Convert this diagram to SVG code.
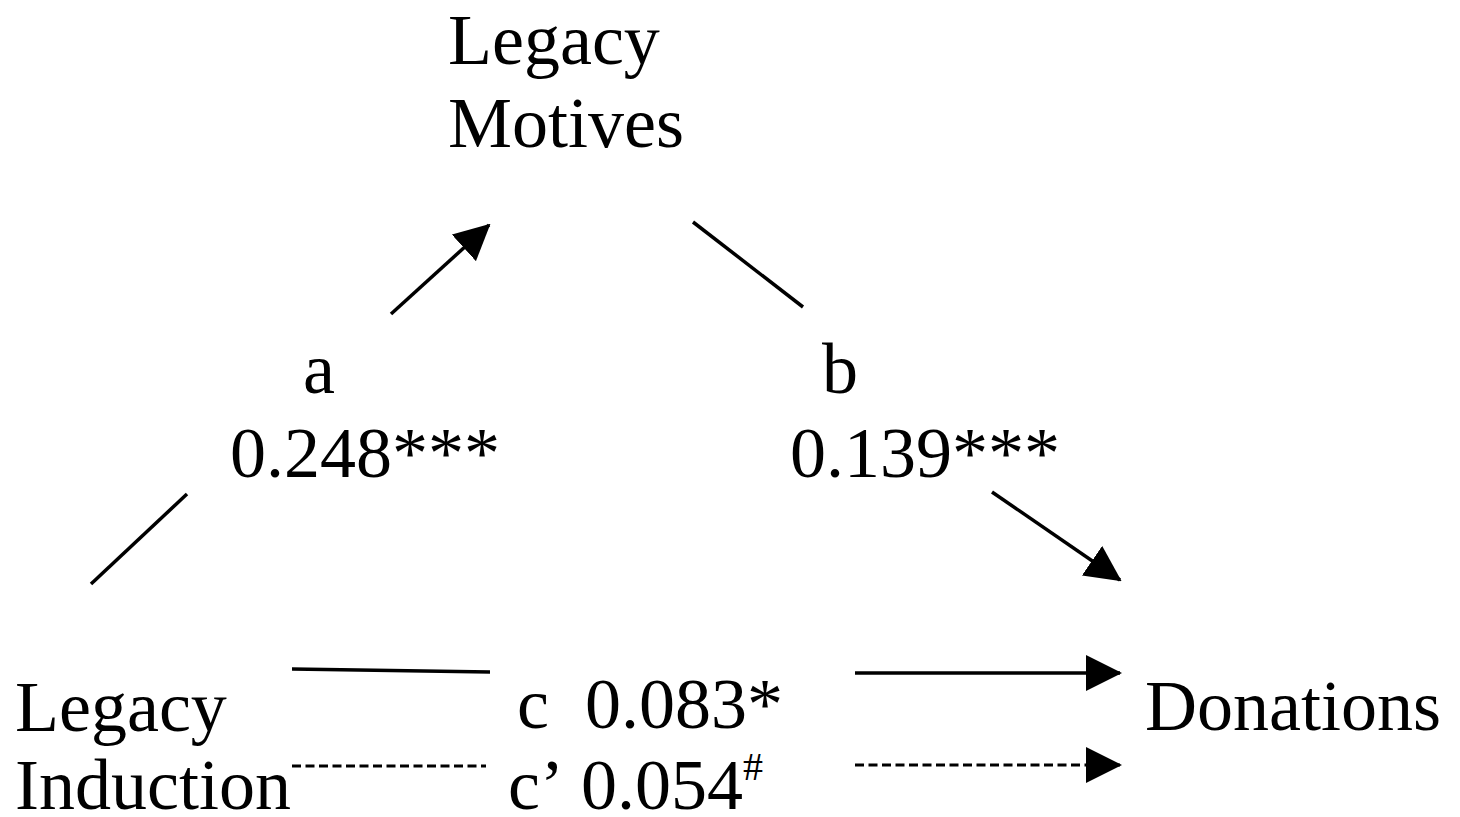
<svg xmlns="http://www.w3.org/2000/svg" width="1460" height="817" viewBox="0 0 1460 817">
  <style>
    text { font-family: "Liberation Serif", "Times New Roman", serif; font-size: 72px; fill: #000; }
    .sup { font-size: 40px; }
    .edge { stroke: #000; stroke-width: 3.5; fill: none; stroke-linecap: butt; }
    .dash { stroke-dasharray: 9 4.5; stroke-width: 3; }
  </style>
  <defs>
    <marker id="head" markerUnits="userSpaceOnUse" markerWidth="36" markerHeight="36" viewBox="0 0 36 36" refX="34" refY="18" orient="auto">
      <path d="M0,0 L36,18 L0,36 Z" fill="#000"/>
    </marker>
  </defs>
  <rect width="1460" height="817" fill="#fff"/>

  <!-- nodes -->
  <g id="legacy-motives">
    <text x="448" y="64">Legacy</text>
    <text x="448" y="147">Motives</text>
  </g>
  <g id="legacy-induction">
    <text x="15" y="731">Legacy</text>
    <text x="15" y="809">Induction</text>
  </g>
  <g id="donations">
    <text x="1145" y="730">Donations</text>
  </g>

  <!-- path coefficients -->
  <g id="labels">
    <text x="303" y="393">a</text>
    <text x="230" y="477">0.248***</text>
    <text x="822" y="393">b</text>
    <text x="790" y="477">0.139***</text>
    <text x="517" y="728">c</text>
    <text x="585" y="728">0.083*</text>
    <text x="508" y="809">c’</text>
    <text x="581" y="809">0.054<tspan class="sup" dy="-29">#</tspan></text>
  </g>

  <!-- connectors -->
  <g id="connectors">
    <line class="edge" x1="91" y1="584" x2="187" y2="494"/>
    <line class="edge" x1="391" y1="314" x2="489" y2="225" marker-end="url(#head)"/>
    <line class="edge" x1="693" y1="222" x2="803" y2="307"/>
    <line class="edge" x1="992" y1="492" x2="1120" y2="580" marker-end="url(#head)"/>
    <line class="edge" x1="292" y1="669" x2="490" y2="672"/>
    <line class="edge" x1="855" y1="673" x2="1120" y2="673" marker-end="url(#head)"/>
    <line class="edge dash" x1="292" y1="766" x2="486" y2="766"/>
    <line class="edge dash" x1="855" y1="765" x2="1120" y2="765" marker-end="url(#head)"/>
  </g>
</svg>
